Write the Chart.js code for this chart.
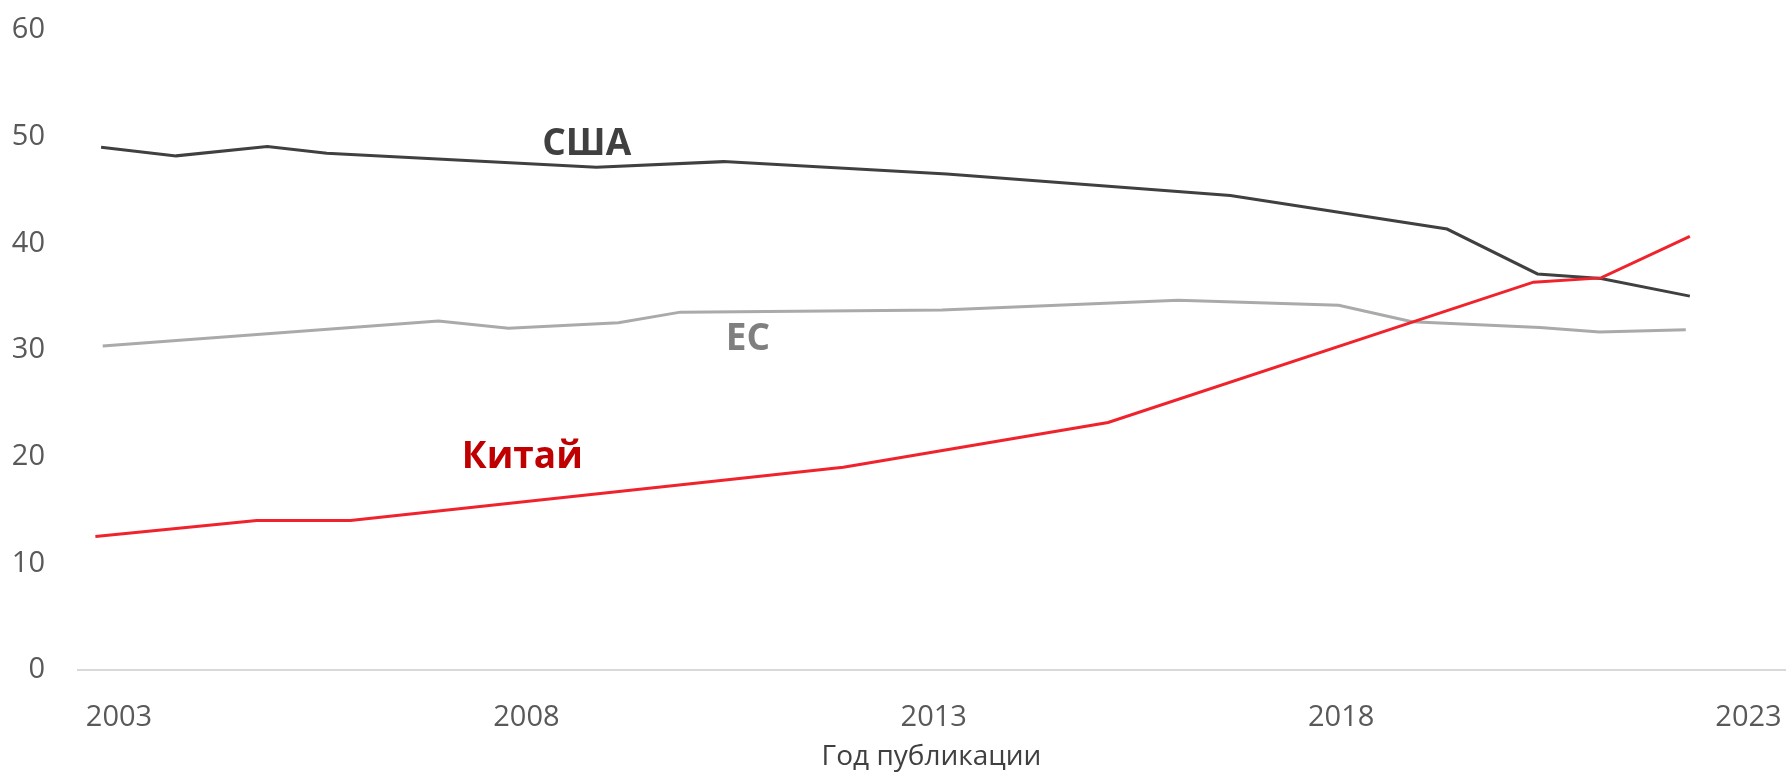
<!DOCTYPE html>
<html lang="ru">
<head>
<meta charset="utf-8">
<title>Доля публикаций по годам</title>
<script src="https://cdn.jsdelivr.net/npm/chart.js@4.4.1/dist/chart.umd.min.js"></script>
<style>
  html, body { margin: 0; padding: 0; background: #fff; }
  #wrap { width: 1786px; height: 774px; }
</style>
</head>
<body>
<div id="wrap"><canvas id="chart"></canvas></div>
<script>
// values (year, share %)
const usaYears = [2002.78, 2003.70, 2004.82, 2005.55, 2008.86, 2010.42, 2013.16, 2016.64, 2019.30, 2020.41, 2021.19, 2022.28];
const usaValues = [49.0, 48.2, 49.07, 48.45, 47.13, 47.66, 46.5, 44.49, 41.34, 37.13, 36.7, 35.05];

const euYears = [2002.80, 2006.92, 2007.78, 2009.13, 2009.89, 2013.1, 2016.0, 2017.97, 2018.87, 2020.44, 2021.17, 2022.23];
const euValues = [30.37, 32.71, 32.03, 32.56, 33.55, 33.75, 34.67, 34.2, 32.65, 32.12, 31.68, 31.9];

const chinaYears = [2002.71, 2004.69, 2005.84, 2011.89, 2015.14, 2020.36, 2021.19, 2022.28];
const chinaValues = [12.52, 14.02, 14.02, 19.0, 23.2, 36.36, 36.76, 40.65];

const yearTicks = [2003, 2008, 2013, 2018, 2023];
const seriesNames = ["Китай", "США", "ЕС"];

const toPoints = (xs, ys) => xs.map((x, i) => ({ x: x, y: ys[i] }));

// text labels next to the lines
const lineLabels = {
  id: "lineLabels",
  afterDatasetsDraw(chart) {
    const { ctx, scales } = chart;
    const items = [
      { text: seriesNames[1], x: 2008.74, y: 49.3, color: "#404040" },
      { text: seriesNames[2], x: 2010.72, y: 31.0, color: "#7f7f7f" },
      { text: seriesNames[0], x: 2007.95, y: 19.9, color: "#c00000" },
    ];
    ctx.save();
    ctx.font = "bold 37px 'Open Sans'";
    ctx.textAlign = "center";
    ctx.textBaseline = "middle";
    items.forEach((it) => {
      ctx.fillStyle = it.color;
      ctx.fillText(it.text, scales.x.getPixelForValue(it.x), scales.y.getPixelForValue(it.y));
    });
    ctx.restore();
  },
};

const ctx = document.getElementById("chart").getContext("2d");
new Chart(ctx, {
  type: "line",
  data: {
    datasets: [
      {
        label: seriesNames[0],
        data: toPoints(chinaYears, chinaValues),
        borderColor: "#f0232d",
        borderWidth: 3,
        pointRadius: 0,
        tension: 0,
      },
      {
        label: seriesNames[1],
        data: toPoints(usaYears, usaValues),
        borderColor: "#404040",
        borderWidth: 3,
        pointRadius: 0,
        tension: 0,
      },
      {
        label: seriesNames[2],
        data: toPoints(euYears, euValues),
        borderColor: "#aaaaaa",
        borderWidth: 3,
        pointRadius: 0,
        tension: 0,
      },
    ],
  },
  options: {
    responsive: true,
    maintainAspectRatio: false,
    animation: false,
    layout: { padding: { top: 30, right: 0, left: 0, bottom: 0 } },
    plugins: {
      legend: { display: false },
      tooltip: { enabled: false },
    },
    scales: {
      x: {
        type: "linear",
        min: 2002.4845,
        max: 2023.46,
        afterBuildTicks: (axis) => {
          axis.ticks = yearTicks.map((v) => ({ value: v }));
        },
        afterFit: (axis) => {
          axis.height = 104;
          axis.paddingLeft = 0;
          axis.paddingRight = 0;
        },
        grid: { display: false },
        border: { display: false },
        ticks: {
          color: "#595959",
          padding: 22,
          maxRotation: 0,
          font: { family: "'Open Sans'", size: 29 },
          callback: (v) => String(v),
        },
        title: {
          display: true,
          text: "Год публикации",
          color: "#404040",
          padding: { top: 0, bottom: 0 },
          font: { family: "'Open Sans'", size: 28 },
        },
      },
      y: {
        min: 0,
        max: 60,
        afterFit: (axis) => {
          axis.width = 77;
          axis.paddingTop = 0;
          axis.paddingBottom = 0;
        },
        border: { display: false },
        grid: {
          drawTicks: false,
          lineWidth: 2,
          color: (c) => (c.tick && c.tick.value === 0 ? "#d9d9d9" : "rgba(0,0,0,0)"),
        },
        ticks: {
          stepSize: 10,
          color: "#595959",
          padding: 32,
          font: { family: "'Open Sans'", size: 29 },
        },
      },
    },
  },
  plugins: [lineLabels],
});
</script>
</body>
</html>
